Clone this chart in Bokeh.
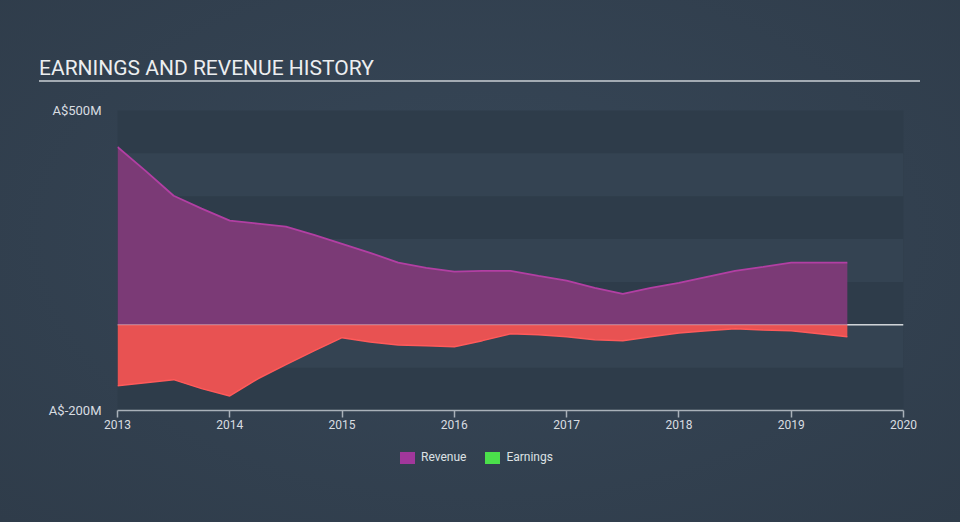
import math
from bokeh.plotting import figure
from bokeh.models import FixedTicker, Div, Label, Span, Range1d
from bokeh.layouts import column
from bokeh.embed import file_html
from bokeh.resources import INLINE

# ---- data (A$ millions) ----
dates = [2013.0, 2013.25, 2013.5, 2013.75, 2014.0, 2014.25, 2014.5, 2014.75,
         2015.0, 2015.25, 2015.5, 2015.75, 2016.0, 2016.25, 2016.5, 2016.75,
         2017.0, 2017.25, 2017.5, 2017.75, 2018.0, 2018.25, 2018.5, 2018.75,
         2019.0, 2019.25, 2019.5]
revenue = [415, 359, 301, 271, 243, 236, 229, 210,
           189, 168, 145, 133, 124, 126, 126, 114,
           103, 86, 72, 86, 98, 112, 126, 135,
           145, 145, 145]
earnings = [-142, -135, -128, -149, -166, -126, -93, -61,
            -30, -40, -47, -49, -51, -37, -21, -23,
            -28, -35, -37, -28, -19, -14, -9, -12,
            -14, -21, -28]
year_ticks = [2013, 2014, 2015, 2016, 2017, 2018, 2019, 2020]
y_ticks = [-200, 500]
y_tick_labels = {-200: "A$-200M", 500: "A$500M"}
band_ticks = [-200, -100, 0, 100, 200, 300, 400, 500]
series_names = ["Revenue", "Earnings"]
legend_colors = ["#a1379b", "#4be04b"]

FONT = "Roboto"
TXT = "#d9dde1"

p = figure(width=960, height=358, x_range=Range1d(2013, 2020), y_range=Range1d(-200, 500),
           output_backend="svg", toolbar_location=None,
           min_border_left=117, min_border_right=57, min_border_top=28, min_border_bottom=30)
p.background_fill_color = "#2e3c4a"
p.border_fill_alpha = 0
p.outline_line_color = None

# grid bands (lighter bands over darker frame background)
p.xgrid.visible = False
g = p.ygrid[0]
g.ticker = FixedTicker(ticks=band_ticks)
g.grid_line_color = None
g.band_fill_color = "#344352"
g.band_fill_alpha = 1

# zero line underneath
p.add_layout(Span(location=0, dimension="width", line_color="#c3c8cd", line_width=1.5, level="underlay"))

# areas
p.varea(x=dates, y1=0, y2=revenue, fill_color="#7b3a76", fill_alpha=1)
p.line(dates, revenue, line_color="#b23fa3", line_width=1.8)
p.varea(x=dates, y1=earnings, y2=0, fill_color="#e85252", fill_alpha=1)
p.line(dates, earnings, line_color="#ff5a5a", line_width=1.5)
p.add_layout(Span(location=0, dimension="width", line_color="#ffffff", line_alpha=0.2, line_width=1.5))

# x axis
xa = p.xaxis[0]
xa.ticker = FixedTicker(ticks=year_ticks)
xa.axis_line_color = "#a9b1b9"
xa.axis_line_width = 1.5
xa.major_tick_line_color = "#a9b1b9"
xa.major_tick_line_width = 1.5
xa.major_tick_out = 7
xa.major_tick_in = 0
xa.minor_tick_line_color = None
xa.major_label_text_color = TXT
xa.major_label_text_font = FONT
xa.major_label_text_font_size = "12px"
xa.major_label_standoff = 2

# y axis
ya = p.yaxis[0]
ya.ticker = FixedTicker(ticks=y_ticks)
ya.major_label_overrides = y_tick_labels
ya.axis_line_color = None
ya.major_tick_line_color = None
ya.minor_tick_line_color = None
ya.major_label_text_color = TXT
ya.major_label_text_font = FONT
ya.major_label_text_font_size = "13px"
ya.major_label_standoff = 10

p.add_layout(Label(x=2013, y=150, x_offset=-64, y_offset=-10, text="AUD", angle=math.pi / 2,
                   text_align="center", text_baseline="middle", text_color=TXT,
                   text_font=FONT, text_font_size="12px"))

# legend (HTML)
items = []
for i, (name, col) in enumerate(zip(series_names, legend_colors)):
    ml = "0" if i == 0 else "19px"
    items.append(
        f'<span style="display:inline-flex;align-items:center;margin-left:{ml}">'
        f'<span style="display:inline-block;width:15px;height:12px;background:{col}"></span>'
        f'<span style="margin-left:6px;font-family:{FONT};font-size:12px;color:#dde1e4">{name}</span></span>'
    )
legend_div = Div(text='<div style="display:flex;align-items:center;height:12px">' + "".join(items) + "</div>",
                 width=400, height=82, margin=(12, 0, 0, 400))

title = Div(text="EARNINGS AND REVENUE HISTORY", width=881, height=82, margin=(0, 0, 0, 39),
            styles={"font-family": FONT, "font-size": "21px", "color": "#eceef0",
                    "border-bottom": "2px solid #a3abb3", "box-sizing": "border-box",
                    "padding-top": "58px", "line-height": "21px"})

layout = column(title, p, legend_div, width=960, height=522, spacing=0,
                styles={"background": "radial-gradient(ellipse at 50% 45%, #374758 0%, #2f3c4a 100%)"})

open("out.html", "w").write(file_html(layout, INLINE))
